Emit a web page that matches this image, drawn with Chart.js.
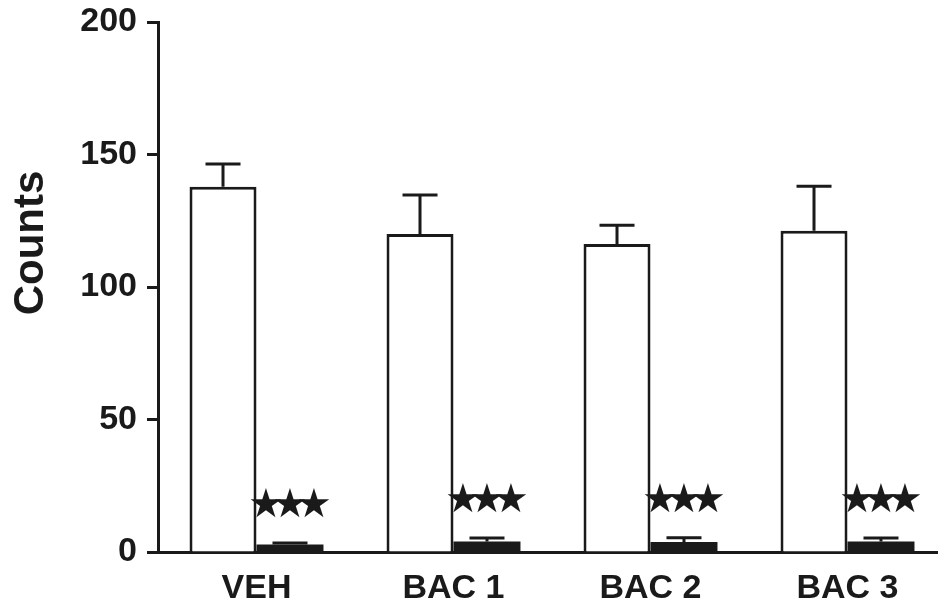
<!DOCTYPE html>
<html>
<head>
<meta charset="utf-8">
<script src="https://cdn.jsdelivr.net/npm/chart.js@4/dist/chart.umd.min.js"></script>
<style>
    html, body { margin: 0; padding: 0; background: #fff; overflow: hidden; }
    #wrap { width: 938px; height: 609px; overflow: hidden; }
</style>
</head>
<body>
<div id="wrap"><canvas id="countsChart" width="946" height="609"></canvas></div>
<script>
"use strict";

// Data
var categories = ["VEH", "BAC 1", "BAC 2", "BAC 3"];
var controlMeans = [137.8, 120.0, 116.2, 121.2];
var controlErrors = [8.6, 14.7, 7.1, 16.8];
var treatedMeans = [2.8, 4.0, 3.8, 4.0];
var treatedErrors = [0.6, 1.3, 1.6, 1.3];
var significance = ["★★★", "★★★", "★★★", "★★★"];
var yTicks = [0, 50, 100, 150, 200];

var ink = "#1a1a1a";

// Draws the upward error bars and the stars above the small bars
var errorBarPlugin = {
    id: "errorBars",
    afterDatasetsDraw: function(chart) {
        var ctx = chart.ctx;
        var yScale = chart.scales.y;
        ctx.save();
        ctx.strokeStyle = ink;
        ctx.lineWidth = 3;
        chart.data.datasets.forEach(function(ds, di) {
            var meta = chart.getDatasetMeta(di);
            meta.data.forEach(function(bar, i) {
                var top = yScale.getPixelForValue(ds.data[i] + ds.errors[i]);
                ctx.beginPath();
                ctx.moveTo(bar.x, bar.y);
                ctx.lineTo(bar.x, top);
                ctx.moveTo(bar.x - 17.5, top);
                ctx.lineTo(bar.x + 17.5, top);
                ctx.stroke();

                if (ds.stars) {
                    // one glyph at a time so the stars sit close like the original
                    var chars = Array.from(ds.stars[i]);
                    var step = 24;
                    ctx.fillStyle = ink;
                    ctx.font = "40px 'DejaVu Sans'";
                    ctx.textAlign = "center";
                    ctx.textBaseline = "middle";
                    chars.forEach(function(c, k) {
                        var dx = (k - (chars.length - 1) / 2) * step;
                        ctx.fillText(c, bar.x + dx, top - 36);
                    });
                }
            });
        });
        ctx.restore();
    }
};

// Y axis title, placed where the original has it
var yTitlePlugin = {
    id: "yTitle",
    afterDraw: function(chart) {
        var ctx = chart.ctx;
        ctx.save();
        ctx.translate(31, 243);
        ctx.rotate(-Math.PI / 2);
        ctx.fillStyle = ink;
        ctx.font = "bold 42px 'Liberation Sans'";
        ctx.textAlign = "center";
        ctx.textBaseline = "middle";
        ctx.fillText("Counts", 0, 0);
        ctx.restore();
    }
};

var config = {
    type: "bar",
    data: {
        labels: categories,
        datasets: [
            {
                data: controlMeans,
                errors: controlErrors,
                backgroundColor: "#ffffff",
                borderColor: ink,
                borderWidth: 3,
                barPercentage: 1.0,
                categoryPercentage: 0.68
            },
            {
                data: treatedMeans,
                errors: treatedErrors,
                stars: significance,
                backgroundColor: ink,
                borderColor: ink,
                borderWidth: 0,
                barPercentage: 1.0,
                categoryPercentage: 0.68
            }
        ]
    },
    options: {
        responsive: false,
        animation: false,
        layout: {
            padding: { top: 22, right: 0, bottom: 0, left: 0 }
        },
        plugins: {
            legend: { display: false },
            tooltip: { enabled: false }
        },
        scales: {
            x: {
                grid: { display: false },
                border: { display: true, color: ink, width: 3 },
                ticks: {
                    color: ink,
                    padding: 8,
                    font: { family: "'Liberation Sans'", size: 34, weight: "bold" }
                },
                afterFit: function(scale) { scale.height = 57; }
            },
            y: {
                min: 0,
                max: 200,
                grid: {
                    drawOnChartArea: false,
                    drawTicks: true,
                    tickLength: 11,
                    tickWidth: 3,
                    tickColor: ink
                },
                border: { display: true, color: ink, width: 3 },
                afterBuildTicks: function(scale) {
                    scale.ticks = yTicks.map(function(v) { return { value: v }; });
                },
                ticks: {
                    color: ink,
                    padding: 10,
                    font: { family: "'Liberation Sans'", size: 34, weight: "bold" }
                },
                afterFit: function(scale) {
                    scale.width = 158;
                    scale.paddingTop = 0;
                }
            }
        }
    },
    plugins: [errorBarPlugin, yTitlePlugin]
};

window.onload = function() {
    var ctx = document.getElementById("countsChart").getContext("2d");
    new Chart(ctx, config);
};
</script>
</body>
</html>
